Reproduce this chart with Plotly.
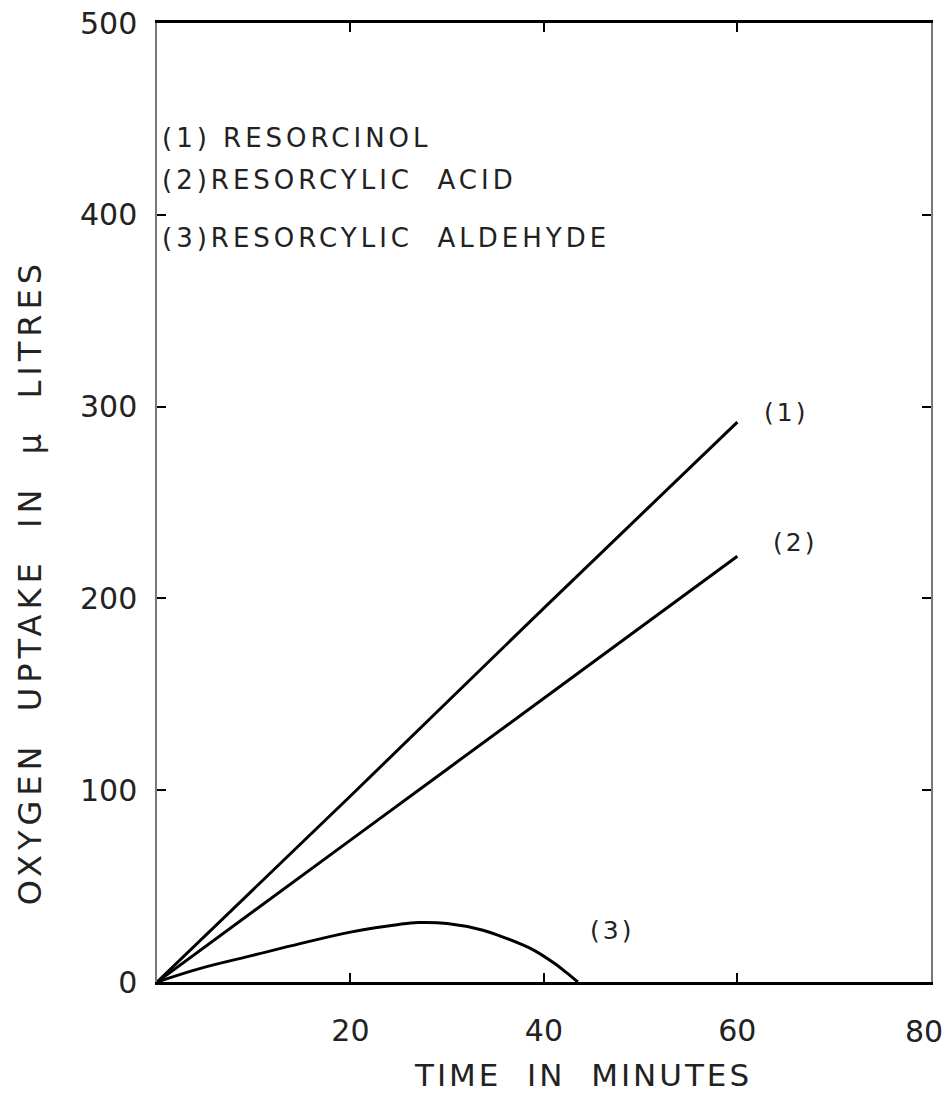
import plotly.graph_objects as go

# Data
time_1 = [0, 20, 40, 60]
uptake_1 = [0, 97, 195, 292]          # (1) Resorcinol
time_2 = [0, 20, 40, 60]
uptake_2 = [0, 74, 148, 222]          # (2) Resorcylic acid
time_3 = [0, 4.4, 10, 14.8, 20, 25, 27, 30, 33.7, 36, 38.8, 41, 42.3, 43.5]
uptake_3 = [0, 7, 14, 20, 26, 30, 31, 30.5, 27, 23, 17, 10, 5, 0]  # (3) Resorcylic aldehyde

x_ticks = [20, 40, 60, 80]
y_ticks = [0, 100, 200, 300, 400, 500]

legend_lines = ["(1) RESORCINOL", "(2)RESORCYLIC  ACID", "(3)RESORCYLIC  ALDEHYDE"]
legend_y = [440, 418, 388]
curve_labels = ["(1)", "(2)", "(3)"]
curve_label_pos = [(65, 297), (66, 229), (47, 27)]

FONT = "DejaVu Sans"


def spaced(t, px):
    return f'<span style="letter-spacing:{px}px">{t}</span>'


fig = go.Figure()
for xs, ys in [(time_1, uptake_1), (time_2, uptake_2), (time_3, uptake_3)]:
    fig.add_trace(go.Scatter(x=xs, y=ys, mode="lines",
                             line=dict(color="black", width=3, shape="spline"),
                             showlegend=False, hoverinfo="skip"))

for txt, yy in zip(legend_lines, legend_y):
    fig.add_annotation(x=0.3, y=yy, xref="x", yref="y", text=spaced(txt, 4), showarrow=False,
                       xanchor="left", yanchor="middle",
                       font=dict(family=FONT, size=26, color="#222"))

for txt, (xx, yy) in zip(curve_labels, curve_label_pos):
    fig.add_annotation(x=xx, y=yy, xref="x", yref="y", text=spaced(txt, 3), showarrow=False,
                       xanchor="center", yanchor="middle",
                       font=dict(family=FONT, size=25, color="#222"))

# last x tick label: placed so it stays inside the page (the tick itself is on the axis)
x_labels = [str(v) for v in x_ticks[:-1]] + [""]
fig.add_annotation(x=x_ticks[-1], y=0, xref="x", yref="y", text=str(x_ticks[-1]),
                   showarrow=False, xanchor="right", yanchor="top", xshift=14, yshift=-30,
                   font=dict(family=FONT, size=30, color="#222"))

fig.add_annotation(x=0.55, y=-0.097, xref="paper", yref="paper",
                   text=spaced("TIME  IN  MINUTES", 3), showarrow=False,
                   xanchor="center", yanchor="middle",
                   font=dict(family=FONT, size=31, color="#222"))
fig.add_annotation(x=-0.164, y=0.417, xref="paper", yref="paper",
                   text=spaced("OXYGEN  UPTAKE  IN  μ  LITRES", 5), showarrow=False,
                   textangle=-90, xanchor="center", yanchor="middle",
                   font=dict(family=FONT, size=32, color="#222"))

fig.update_xaxes(range=[0, 80.02], tickvals=x_ticks, ticktext=x_labels,
                 showgrid=False, zeroline=False, showline=True, linecolor="black",
                 linewidth=3, mirror="ticks", ticks="inside", ticklen=9, tickwidth=2,
                 tickcolor="black", tickfont=dict(family=FONT, size=30, color="#222"),
                 ticklabelstandoff=20, automargin=False)
fig.update_yaxes(range=[0, 500.1], tickvals=y_ticks, ticktext=[str(v) for v in y_ticks],
                 showgrid=False, zeroline=False, showline=True, linecolor="#777",
                 linewidth=1.5, mirror="ticks", ticks="inside", ticklen=9, tickwidth=2,
                 tickcolor="black", tickfont=dict(family=FONT, size=30, color="#222"),
                 ticklabelstandoff=12, automargin=False)

fig.update_layout(width=947, height=1097, plot_bgcolor="white", paper_bgcolor="white",
                  margin=dict(l=157, r=16, t=23, b=115), showlegend=False)

fig.write_html("out.html")
